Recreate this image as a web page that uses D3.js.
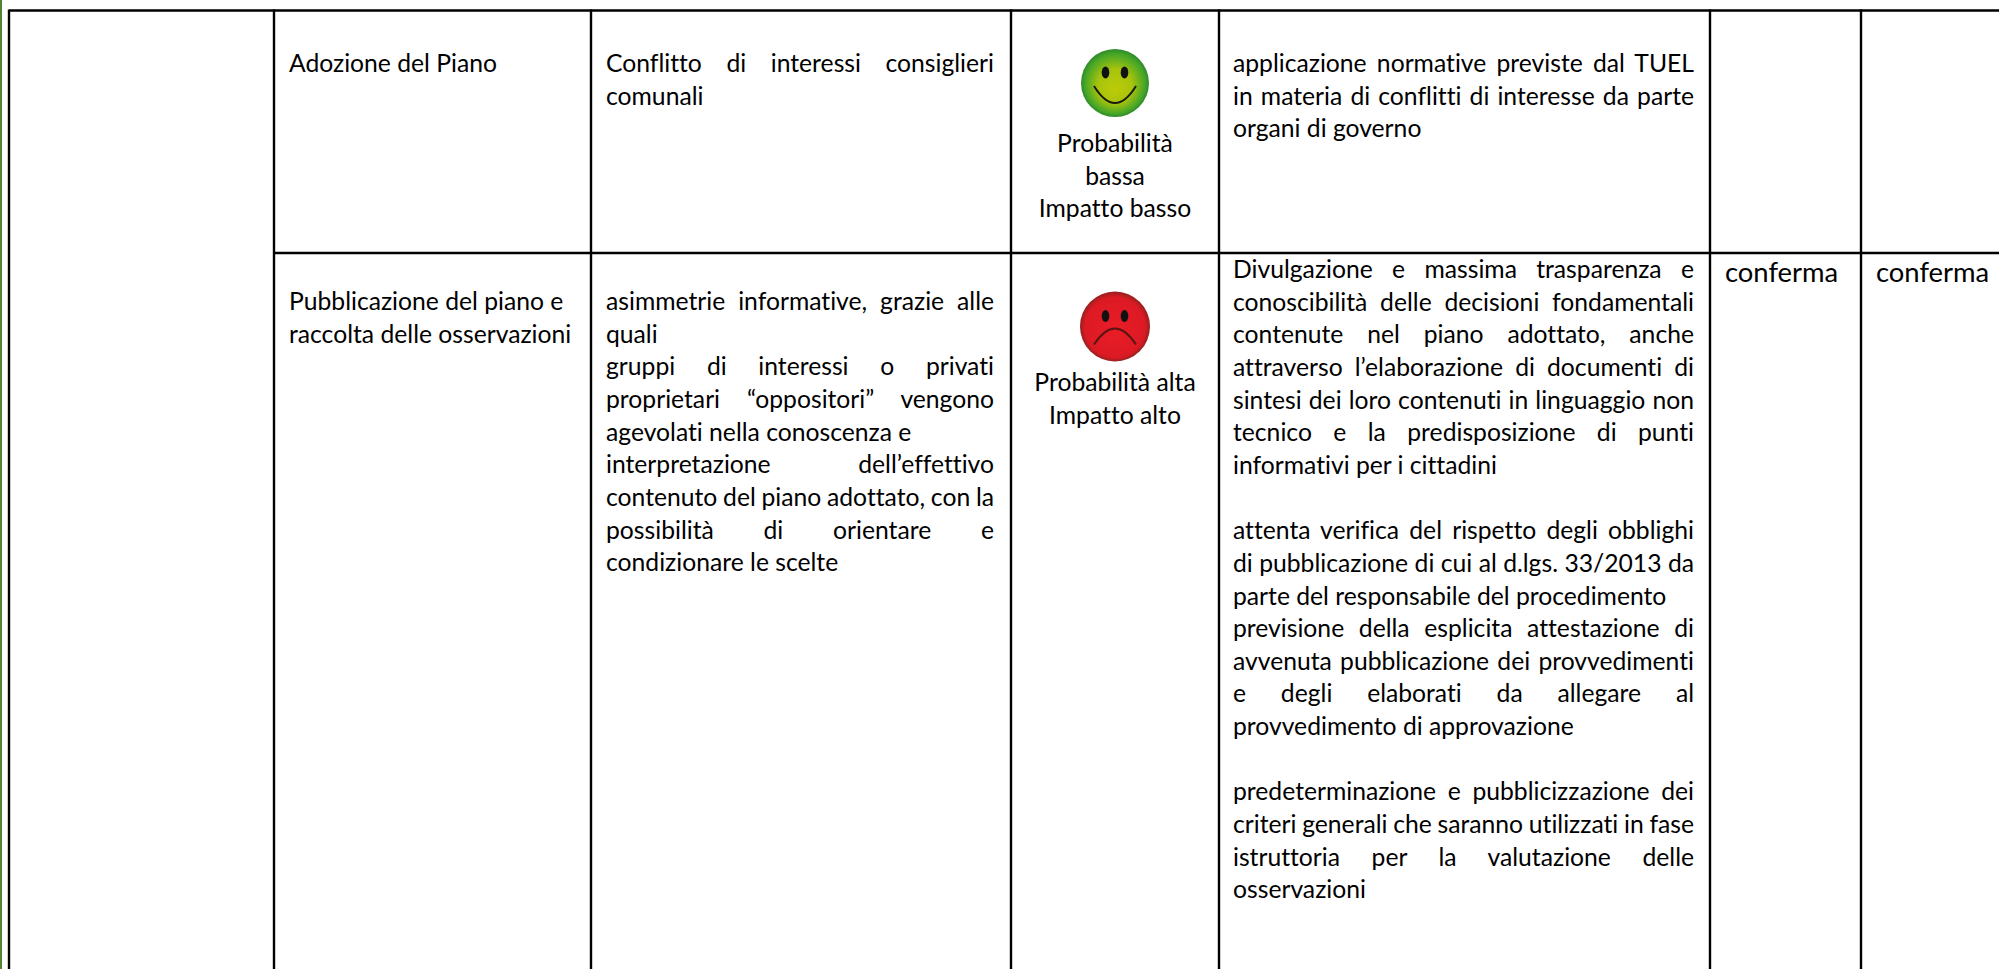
<!DOCTYPE html>
<html>
<head>
<meta charset="utf-8">
<script src="https://cdn.jsdelivr.net/npm/d3@7"></script>
<style>
html, body { margin: 0; padding: 0; background: #fff; overflow: hidden; }
text { font-family: Lato, "Open Sans", sans-serif; fill: #000; font-variant-ligatures: none; }
</style>
</head>
<body>
<div id="chart"></div>
<script>
// table content, one array per column
const columns = ["side", "fase", "rischio", "valutazione", "misure", "anno1", "anno2", "end"];
const rows = ["adozione", "pubblicazione"];

const fasi = [
    ["Adozione del Piano"],
    ["Pubblicazione del piano e", "raccolta delle osservazioni"]
];

// "|" at the end of a line = justified in the cell
const rischi = [
    ["Conflitto di interessi consiglieri|", "comunali"],
    ["asimmetrie informative, grazie alle|", "quali", "gruppi di interessi o privati|",
     "proprietari “oppositori” vengono|", "agevolati nella conoscenza e",
     "interpretazione dell’effettivo|", "contenuto del piano adottato, con la|",
     "possibilità di orientare e|", "condizionare le scelte"]
];

const valutazioni = [
    ["Probabilità", "bassa", "Impatto basso"],
    ["Probabilità alta", "Impatto alto"]
];
const faccine = ["ok", "ko"];

const misure = [
    ["applicazione normative previste dal TUEL|", "in materia di conflitti di interesse da parte|", "organi di governo"],
    ["Divulgazione e massima trasparenza e|", "conoscibilità delle decisioni fondamentali|",
     "contenute nel piano adottato, anche|", "attraverso l’elaborazione di documenti di|",
     "sintesi dei loro contenuti in linguaggio non|", "tecnico e la predisposizione di punti|",
     "informativi per i cittadini", "",
     "attenta verifica del rispetto degli obblighi|", "di pubblicazione di cui al d.lgs. 33/2013 da|",
     "parte del responsabile del procedimento", "previsione della esplicita attestazione di|",
     "avvenuta pubblicazione dei provvedimenti|", "e degli elaborati da allegare al|",
     "provvedimento di approvazione", "",
     "predeterminazione e pubblicizzazione dei|", "criteri generali che saranno utilizzati in fase|",
     "istruttoria per la valutazione delle|", "osservazioni"]
];

const anno1 = [[], ["conferma"]];
const anno2 = [[], ["conferma"]];

// layout
const width = 1999, height = 969;
const x = d3.scaleOrdinal().domain(columns).range([9, 274, 591, 1011, 1219, 1710, 1861, 2010]);
const yTop = d3.scaleOrdinal().domain(rows).range([10.5, 253]);
const fontSize = 24.7;
const bigSize = 27.4;
const lineH = 32.65;

const svg = d3.select("#chart").append("svg")
    .attr("width", width)
    .attr("height", height)
    .style("display", "block");

const defs = svg.append("defs");
const gradOk = defs.append("radialGradient").attr("id", "grad-ok").attr("fy", "0.6");
gradOk.append("stop").attr("offset", "0%").attr("stop-color", "#bccb08");
gradOk.append("stop").attr("offset", "50%").attr("stop-color", "#a8c40c");
gradOk.append("stop").attr("offset", "88%").attr("stop-color", "#46a628");
gradOk.append("stop").attr("offset", "100%").attr("stop-color", "#2f8a2a");
const gradKo = defs.append("radialGradient").attr("id", "grad-ko").attr("fy", "0.6");
gradKo.append("stop").attr("offset", "0%").attr("stop-color", "#ea1c26");
gradKo.append("stop").attr("offset", "86%").attr("stop-color", "#dc1a24");
gradKo.append("stop").attr("offset", "100%").attr("stop-color", "#96201f");

// green page line on the left
svg.append("rect").attr("x", 0).attr("y", 0).attr("width", 2).attr("height", height).attr("fill", "#548235");

// grid lines
const grid = svg.append("g").attr("stroke", "#000").attr("stroke-width", 2.4);
grid.selectAll("line.col")
    .data(columns.slice(0, -1))
    .join("line")
    .attr("class", "col")
    .attr("x1", d => x(d)).attr("x2", d => x(d))
    .attr("y1", yTop("adozione") - 1).attr("y2", height);
grid.append("line")
    .attr("x1", x("side")).attr("x2", width)
    .attr("y1", yTop("adozione")).attr("y2", yTop("adozione"));
grid.append("line")
    .attr("x1", x("fase")).attr("x2", width)
    .attr("y1", yTop("pubblicazione")).attr("y2", yTop("pubblicazione"));

// writes a block of lines, justifying the ones marked with "|"
function writeLines(g, lines, left, right, firstY, align, size) {
    g.selectAll(null)
        .data(lines)
        .join("text")
        .attr("x", align === "middle" ? (left + right) / 2 : left)
        .attr("y", (d, i) => firstY + i * lineH)
        .attr("text-anchor", align === "middle" ? "middle" : "start")
        .style("font-size", (size || fontSize) + "px")
        .text(d => d.replace("|", ""))
        .each(function (d) {
            if (!d.endsWith("|")) return;
            const gaps = d.trim().split(" ").length - 1;
            const free = (right - left) - this.getComputedTextLength();
            d3.select(this).style("word-spacing", (gaps ? free / gaps : 0) + "px");
        });
}

function face(g, kind, cx, cy) {
    const r = kind === "ok" ? 34 : 35;
    g.append("circle").attr("cx", cx).attr("cy", cy).attr("r", r)
        .attr("fill", `url(#grad-${kind})`);
    g.selectAll(null).data([-9.5, 9.5]).join("ellipse")
        .attr("cx", d => cx + d).attr("cy", cy - 10.5)
        .attr("rx", 3.8).attr("ry", 6).attr("fill", "#111");
    const mouth = d3.path();
    if (kind === "ok") {
        mouth.moveTo(cx - 21, cy + 3);
        mouth.quadraticCurveTo(cx, cy + 37, cx + 21, cy + 3);
    } else {
        mouth.moveTo(cx - 21, cy + 18);
        mouth.quadraticCurveTo(cx, cy - 14, cx + 21, cy + 18);
    }
    g.append("path").attr("d", mouth.toString()).attr("fill", "none")
        .attr("stroke", kind === "ok" ? "#1a1a10" : "#5a1512").attr("stroke-width", 2);
}

const body = svg.append("g");
const firstLine = [72, 310];
const valBase = [152, 391];
const misureBase = [72, 278];
const faceY = [83, 326.5];

rows.forEach((r, i) => {
    writeLines(body, fasi[i], x("fase") + 15, x("rischio") - 8, firstLine[i], "start");
    writeLines(body, rischi[i], x("rischio") + 15, x("valutazione") - 17, firstLine[i], "start");
    writeLines(body, valutazioni[i], x("valutazione"), x("misure"), valBase[i], "middle");
    writeLines(body, misure[i], x("misure") + 14, x("anno1") - 16, misureBase[i], "start");
    writeLines(body, anno1[i], x("anno1") + 15, x("anno2"), 281.5, "start", bigSize);
    writeLines(body, anno2[i], x("anno2") + 15, width, 281.5, "start", bigSize);
    face(body, faccine[i], (x("valutazione") + x("misure")) / 2, faceY[i]);
});
</script>
</body>
</html>
